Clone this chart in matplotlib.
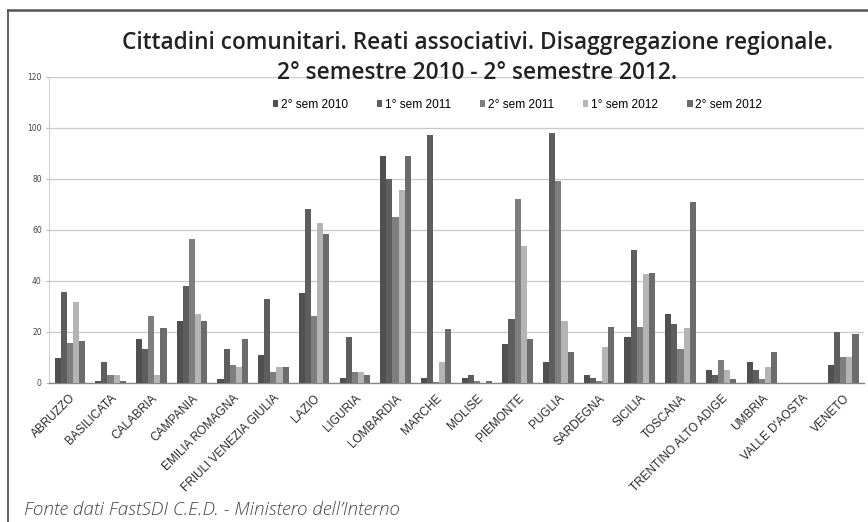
import numpy as np
import matplotlib
matplotlib.use("Agg")
import matplotlib.pyplot as plt
from matplotlib.lines import Line2D

regioni = ["ABRUZZO", "BASILICATA", "CALABRIA", "CAMPANIA", "EMILIA ROMAGNA",
           "FRIULI VENEZIA GIULIA", "LAZIO", "LIGURIA", "LOMBARDIA", "MARCHE",
           "MOLISE", "PIEMONTE", "PUGLIA", "SARDEGNA", "SICILIA", "TOSCANA",
           "TRENTINO ALTO ADIGE", "UMBRIA", "VALLE D'AOSTA", "VENETO"]

serie = ["2° sem 2010", "1° sem 2011", "2° sem 2011", "1° sem 2012", "2° sem 2012"]

sem2_2010 = [9.5, 0.5, 17, 24, 1.5, 11, 35, 2, 89, 2, 2, 15, 8, 3, 18, 27, 5, 8, 0, 7]
sem1_2011 = [35.5, 8, 13, 38, 13, 33, 68, 18, 80, 97, 3, 25, 98, 2, 52, 23, 3, 5, 0, 20]
sem2_2011 = [15.5, 3, 26, 56.5, 7, 4, 26, 4, 65, 0.3, 0.5, 72, 79, 0.5, 22, 13, 9, 1.5, 0, 10]
sem1_2012 = [31.5, 3, 3, 27, 6, 6, 62.5, 4, 75.5, 8, 0, 53.5, 24, 14, 42.5, 21.5, 5, 6, 0, 10]
sem2_2012 = [16.5, 0.5, 21.5, 24, 17, 6, 58.5, 3, 89, 21, 0.5, 17, 12, 22, 43, 71, 1.5, 12, 0, 19]

valori = [sem2_2010, sem1_2011, sem2_2011, sem1_2012, sem2_2012]
colori = ["#505050", "#5e5e5e", "#7e7e7e", "#b4b4b4", "#6c6c6c"]

fig = plt.figure(figsize=(8.68, 5.22), dpi=100)
ax = fig.add_axes([0.057, 0.267, 0.938, 0.586])

x = np.arange(len(regioni))
w = 0.15
for k in range(5):
    ax.bar(x + (k - 2) * w, valori[k], width=w, color=colori[k],
           label=serie[k], zorder=3, linewidth=0)

ax.set_xlim(-0.5, len(regioni) - 0.5)
ax.set_ylim(0, 120)
ax.set_yticks(np.arange(0, 121, 20))
ax.yaxis.grid(True, color="#c8c8c8", linewidth=0.9, zorder=0)
ax.tick_params(axis="y", length=2, labelsize=5.5, labelcolor="#444444", color="#bbbbbb")
ax.set_xticks(x)
ax.set_xticklabels(regioni, rotation=45, ha="right", rotation_mode="anchor",
                   fontsize=8.5, family="Liberation Sans", color="#2a2a2a")
ax.tick_params(axis="x", length=0, pad=7)
for s in ["top", "right"]:
    ax.spines[s].set_visible(False)
ax.spines["left"].set_color("#d0d0d0")
ax.spines["bottom"].set_color("#888888")
ax.spines["bottom"].set_linewidth(1.0)

ax.legend(loc="upper center", bbox_to_anchor=(0.575, 0.963), ncol=5, frameon=False,
          prop={"family": "Liberation Sans", "size": 8.6},
          handlelength=0.45, handleheight=0.45, columnspacing=2.4, handletextpad=0.25)

fig.text(0.55, 0.918, "Cittadini comunitari. Reati associativi. Disaggregazione regionale.",
         ha="center", va="center", fontsize=16.3, fontweight="semibold",
         family="Open Sans", color="#222222")
fig.text(0.55, 0.86, "2° semestre 2010 - 2° semestre 2012.",
         ha="center", va="center", fontsize=16.3, fontweight="semibold",
         family="Open Sans", color="#222222")

fig.text(0.028, 0.023, "Fonte dati FastSDI C.E.D. - Ministero dell\u2019Interno",
         ha="left", va="center", fontsize=13.6, style="italic", fontweight="light",
         family="Open Sans", color="#444444")

# cornice
fig.add_artist(Line2D([0.009, 1.0], [0.981, 0.981], color="#555555", linewidth=1.8,
                      transform=fig.transFigure))
fig.add_artist(Line2D([0.009, 0.009], [0.0, 0.981], color="#555555", linewidth=1.3,
                      transform=fig.transFigure))

fig.savefig("out.png", dpi=100)
